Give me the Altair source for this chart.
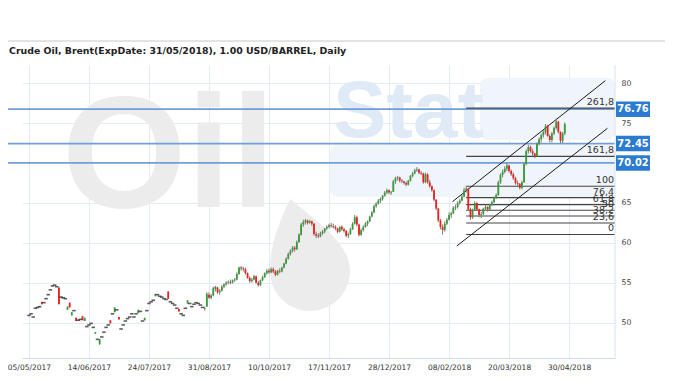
import altair as alt
import pandas as pd

# ---------------- data (June-2018 Brent contract, daily bars) ----------------
opens = [
    50.9, 51.1, 50.7, 51.8, 51.9, 52.0, 52.6, 52.5, 53.0, 53.5,
    54.1, 54.6, 54.7, 54.5, 54.4, 53.2, 53.1, 53.0, 51.6, 52.5,
    50.9, 51.5, 50.6, 50.3, 50.4, 50.8, 50.2, 49.5, 49.7, 49.9,
    49.4, 48.6, 47.9, 47.3, 48.2, 48.8, 49.4, 49.7, 50.3, 51.1,
    51.3, 51.6, 50.7, 49.2, 49.7, 50.2, 50.5, 50.7, 51.1, 50.7,
    51.1, 51.2, 51.4, 50.2, 50.3, 51.5, 52.4, 52.6, 52.8, 53.3,
    53.5, 53.3, 53.2, 53.0, 52.9, 53.9, 52.6, 52.4, 52.2, 51.8,
    51.7, 51.1, 50.9, 51.8, 52.4, 52.4, 52.0, 52.3, 52.5, 52.4,
    52.2, 51.9, 51.7, 52.0, 53.5, 53.1, 53.4, 54.2, 54.4, 53.8,
    54.0, 54.5, 54.8, 55.0, 55.1, 55.0, 55.3, 55.4, 56.1, 56.9,
    56.8, 56.7, 56.2, 55.6, 55.2, 55.4, 55.8, 55.0, 54.7, 55.3,
    55.7, 56.2, 56.5, 56.3, 56.7, 56.4, 56.0, 56.5, 56.4, 56.9,
    57.4, 58.0, 58.6, 59.0, 59.4, 59.2, 60.1, 61.0, 62.3, 62.6,
    62.8, 62.5, 62.7, 62.4, 61.1, 60.9, 60.8, 61.2, 61.4, 61.8,
    62.0, 62.2, 62.1, 62.0, 61.8, 61.4, 62.0, 61.7, 61.5, 60.9,
    61.1, 61.7, 62.4, 63.2, 62.3, 61.0, 61.6, 62.0, 62.4, 62.7,
    63.3, 63.8, 64.6, 64.9, 65.3, 65.5, 65.9, 66.3, 66.6, 66.3,
    66.4, 67.7, 68.1, 68.2, 67.8, 67.7, 67.5, 67.3, 67.8, 68.4,
    68.7, 69.1, 69.2, 68.8, 68.7, 67.6, 68.6, 67.6, 67.1, 66.6,
    65.4, 64.3, 62.8, 62.0, 61.6, 62.4, 62.9, 63.5, 63.7, 64.4,
    64.5, 65.0, 65.3, 65.8, 66.6, 66.8, 64.2, 63.2, 64.1, 65.0,
    64.2, 63.5, 63.6, 64.3, 64.5, 64.2, 64.8, 65.1, 65.6, 66.0,
    67.6, 68.5, 68.9, 69.3, 69.7, 69.0, 68.6, 68.1, 67.5, 67.4,
    66.9, 67.6, 69.9, 71.5, 72.0, 71.5, 71.2, 70.9, 72.4, 73.0,
    73.5, 73.9, 74.7, 73.4, 72.9, 73.7, 74.4, 75.2, 73.9, 72.8,
    73.7,
]
highs = [
    50.9, 51.1, 50.7, 51.8, 51.9, 52.0, 52.6, 52.5, 53.0, 53.5,
    54.1, 54.6, 54.7, 54.5, 54.4, 53.2, 53.1, 53.0, 52.0, 52.5,
    51.3, 51.5, 50.6, 50.3, 50.4, 50.8, 50.6, 49.5, 49.7, 49.9,
    49.4, 48.8, 47.9, 47.9, 48.2, 48.8, 49.4, 49.7, 50.3, 51.1,
    51.9, 51.6, 50.7, 49.2, 49.7, 50.2, 50.5, 50.7, 51.1, 50.7,
    51.1, 51.6, 51.4, 50.2, 50.6, 51.5, 52.4, 52.6, 52.8, 53.6,
    53.5, 53.3, 53.2, 53.0, 52.9, 53.9, 52.6, 52.4, 52.2, 51.8,
    51.7, 51.1, 50.9, 51.8, 52.8, 52.4, 52.0, 52.3, 52.5, 52.4,
    52.2, 51.9, 52.0, 53.8, 53.8, 53.6, 54.5, 54.6, 54.5, 54.2,
    54.7, 54.9, 55.2, 55.3, 55.4, 55.4, 55.6, 56.3, 57.0, 57.1,
    57.0, 56.9, 56.3, 55.8, 55.6, 56.0, 55.9, 55.2, 55.4, 55.9,
    56.3, 56.7, 56.8, 56.9, 56.9, 56.6, 56.6, 56.8, 57.0, 57.5,
    58.2, 58.8, 59.2, 59.6, 59.6, 60.3, 61.2, 62.5, 62.9, 63.0,
    62.9, 62.9, 62.8, 62.5, 61.4, 61.2, 61.4, 61.6, 61.9, 62.2,
    62.4, 62.5, 62.4, 62.2, 61.9, 62.1, 62.2, 61.9, 61.6, 61.3,
    61.9, 62.6, 63.5, 63.4, 62.4, 61.8, 62.2, 62.6, 62.8, 63.4,
    64.0, 64.8, 65.1, 65.5, 65.7, 66.0, 66.5, 66.8, 66.7, 66.5,
    67.9, 68.3, 68.4, 68.3, 68.0, 67.8, 67.7, 67.9, 68.5, 68.9,
    69.3, 69.5, 69.3, 69.0, 68.8, 68.8, 68.7, 67.9, 67.2, 66.7,
    65.5, 64.4, 63.0, 62.3, 62.7, 63.1, 63.8, 63.9, 64.6, 64.8,
    65.2, 65.5, 66.0, 66.9, 67.1, 66.9, 64.4, 64.3, 65.2, 65.1,
    64.3, 63.9, 64.4, 64.8, 64.6, 64.9, 65.3, 65.8, 66.2, 67.8,
    68.7, 69.2, 69.6, 70.0, 69.8, 69.2, 68.8, 68.3, 67.8, 67.5,
    67.8, 70.1, 71.7, 72.3, 72.2, 71.8, 71.3, 72.6, 73.2, 73.7,
    74.2, 74.9, 74.8, 73.6, 73.9, 74.6, 75.6, 75.3, 74.0, 73.9,
    75.1,
]
lows = [
    50.9, 51.1, 50.7, 51.8, 51.9, 52.0, 52.3, 52.5, 53.0, 53.5,
    54.1, 54.6, 54.7, 54.5, 52.3, 53.2, 53.1, 53.0, 51.6, 51.9,
    50.9, 51.5, 50.2, 50.3, 50.4, 50.3, 50.2, 49.5, 49.7, 49.9,
    49.4, 48.6, 47.9, 47.2, 48.2, 48.8, 49.4, 49.7, 49.9, 51.1,
    51.3, 51.6, 50.4, 49.2, 49.7, 50.2, 50.5, 50.7, 51.1, 50.7,
    51.1, 51.2, 51.4, 50.2, 50.3, 51.5, 52.4, 52.6, 52.8, 53.3,
    53.5, 53.3, 53.2, 53.0, 52.9, 53.0, 52.6, 52.4, 52.2, 51.8,
    51.4, 51.1, 50.9, 51.8, 52.4, 52.4, 52.0, 52.3, 52.5, 52.4,
    52.2, 51.9, 51.5, 52.0, 53.0, 52.9, 53.3, 53.9, 53.6, 53.5,
    53.9, 54.3, 54.6, 54.8, 54.8, 54.9, 55.1, 55.3, 56.0, 56.5,
    56.4, 56.0, 55.5, 55.0, 55.0, 55.3, 54.9, 54.5, 54.6, 55.2,
    55.6, 56.0, 56.1, 56.2, 56.2, 55.8, 55.9, 56.2, 56.3, 56.8,
    57.3, 57.9, 58.4, 58.8, 58.9, 59.1, 60.0, 60.9, 62.0, 62.3,
    62.3, 62.4, 62.1, 60.9, 60.6, 60.6, 60.7, 61.0, 61.2, 61.6,
    61.8, 61.9, 61.8, 61.6, 61.2, 61.3, 61.5, 61.3, 60.7, 60.6,
    61.0, 61.6, 62.3, 62.1, 60.8, 60.9, 61.4, 61.9, 62.1, 62.6,
    63.2, 63.7, 64.4, 64.8, 65.0, 65.3, 65.8, 66.1, 66.1, 66.0,
    66.4, 67.4, 67.8, 67.6, 67.5, 67.3, 67.1, 67.2, 67.7, 68.2,
    68.6, 68.9, 68.6, 68.5, 67.4, 67.5, 67.4, 66.9, 66.4, 65.2,
    64.1, 62.6, 61.7, 61.05, 61.4, 62.2, 62.8, 63.1, 63.6, 64.1,
    64.3, 64.8, 65.2, 65.7, 66.3, 64.0, 62.9, 63.0, 64.0, 64.0,
    63.2, 63.1, 63.5, 64.0, 63.9, 64.1, 64.6, 65.0, 65.5, 65.9,
    67.4, 68.2, 68.7, 69.0, 68.8, 68.4, 67.9, 67.3, 67.1, 66.7,
    66.7, 67.5, 69.7, 71.2, 71.3, 70.9, 70.6, 70.8, 72.2, 72.6,
    73.2, 73.6, 73.3, 72.6, 72.6, 73.5, 74.2, 73.7, 72.5, 72.5,
    73.5,
]
closes = [
    50.9, 51.1, 50.7, 51.8, 51.9, 52.0, 52.3, 52.5, 53.0, 53.5,
    54.1, 54.6, 54.7, 54.5, 52.3, 53.2, 53.1, 53.0, 52.0, 51.9,
    51.3, 51.5, 50.2, 50.3, 50.4, 50.3, 50.6, 49.5, 49.7, 49.9,
    49.4, 48.8, 47.9, 47.9, 48.2, 48.8, 49.4, 49.7, 49.9, 51.1,
    51.9, 51.6, 50.4, 49.2, 49.7, 50.2, 50.5, 50.7, 51.1, 50.7,
    51.1, 51.6, 51.4, 50.2, 50.6, 51.5, 52.4, 52.6, 52.8, 53.6,
    53.5, 53.3, 53.2, 53.0, 52.9, 53.0, 52.6, 52.4, 52.2, 51.8,
    51.4, 51.1, 50.9, 51.8, 52.8, 52.4, 52.0, 52.3, 52.5, 52.4,
    52.2, 51.9, 51.8, 53.6, 53.1, 53.4, 54.3, 54.5, 53.8, 54.0,
    54.5, 54.8, 55.0, 55.1, 55.0, 55.3, 55.4, 56.1, 56.9, 56.8,
    56.7, 56.2, 55.6, 55.2, 55.4, 55.8, 55.0, 54.7, 55.3, 55.7,
    56.2, 56.5, 56.3, 56.7, 56.4, 56.0, 56.5, 56.4, 56.9, 57.4,
    58.0, 58.6, 59.0, 59.4, 59.2, 60.1, 61.0, 62.3, 62.6, 62.8,
    62.5, 62.7, 62.4, 61.1, 60.9, 60.8, 61.2, 61.4, 61.8, 62.0,
    62.2, 62.1, 62.0, 61.8, 61.4, 62.0, 61.7, 61.5, 60.9, 61.1,
    61.7, 62.4, 63.2, 62.3, 61.0, 61.6, 62.0, 62.4, 62.7, 63.3,
    63.8, 64.6, 64.9, 65.3, 65.5, 65.9, 66.3, 66.6, 66.3, 66.4,
    67.7, 68.1, 68.2, 67.8, 67.7, 67.5, 67.3, 67.8, 68.4, 68.7,
    69.1, 69.2, 68.8, 68.7, 67.6, 68.6, 67.6, 67.1, 66.6, 65.4,
    64.3, 62.8, 62.0, 61.6, 62.4, 62.9, 63.5, 63.7, 64.4, 64.5,
    65.0, 65.3, 65.8, 66.6, 66.8, 64.2, 63.2, 64.1, 65.0, 64.2,
    63.5, 63.6, 64.3, 64.5, 64.2, 64.8, 65.1, 65.6, 66.0, 67.6,
    68.5, 68.9, 69.3, 69.7, 69.0, 68.6, 68.1, 67.5, 67.4, 66.9,
    67.6, 69.9, 71.5, 72.0, 71.5, 71.2, 70.9, 72.4, 73.0, 73.5,
    73.9, 74.6, 73.4, 72.9, 73.7, 74.4, 75.2, 73.9, 72.8, 73.7,
    74.9,
]

tick_index = [0, 28, 56, 84, 112, 140, 168, 196, 224, 252]
tick_labels = ["05/05/2017", "14/06/2017", "24/07/2017", "31/08/2017", "10/10/2017",
               "17/11/2017", "28/12/2017", "08/02/2018", "20/03/2018", "30/04/2018"]
y_ticks = [50, 55, 60, 65, 75, 80]
level_values = [76.76, 72.45, 70.02]
fib_labels = ["261,8", "161,8", "100", "76,4", "61,8", "50", "38,2", "23,6", "0"]
fib_values = [76.89, 70.84, 67.1, 65.67, 64.79, 64.08, 63.36, 62.48, 61.05]
fib_start = 204
channel_name = ["upper", "upper", "lower", "lower"]
channel_index = [197.6, 268.9, 199.6, 269.9]
channel_price = [65.16, 80.33, 59.6, 74.36]
title_text = "Crude Oil, Brent(ExpDate: 31/05/2018), 1.00 USD/BARREL, Daily"

# ---------------- layout ----------------
W, H = 593, 293
XDOM = [-0.9, 271.1]
YDOM = [45.56, 82.3]
GRID = "#e3ecf5"

df = pd.DataFrame({"i": list(range(len(closes))), "o": opens, "h": highs, "l": lows, "c": closes})

xs = alt.Scale(domain=XDOM, nice=False, zero=False)
ys = alt.Scale(domain=YDOM, nice=False, zero=False)
label_expr = "[" + ",".join("'%s'" % t for t in tick_labels) + "][round(datum.value / 28)]"
x_axis = alt.Axis(values=tick_index, labelExpr=label_expr, title=None, grid=True, gridColor=GRID,
                  domainColor="#cfdcea", ticks=False, labelFontSize=7.5, labelColor="#333333",
                  labelFont="DejaVu Sans", labelPadding=5, labelFlush=5, labelFlushOffset=15)
y_axis = alt.Axis(values=y_ticks, orient="right", title=None, grid=True, gridColor=GRID,
                  domain=False, ticks=False, labelFontSize=7.8, labelColor="#444444",
                  labelPadding=6, labelFont="DejaVu Sans")


def X(field):
    return alt.X(field, type="quantitative", scale=xs, axis=x_axis)


def Y(field):
    return alt.Y(field, type="quantitative", scale=ys, axis=y_axis)


one = pd.DataFrame({"k": [0]})

# faint watermark
WM_BLUE = "#eff5fb"
WM_GRAY = "#ececec"
wm_box1 = alt.Chart(one).mark_rect(color=WM_BLUE, cornerRadius=8).encode(
    x=alt.value(458), x2=alt.value(W), y=alt.value(13), y2=alt.value(75))
wm_box2 = alt.Chart(one).mark_rect(color=WM_BLUE, cornerRadius=8).encode(
    x=alt.value(308), x2=alt.value(W), y=alt.value(80), y2=alt.value(132))
wm_oil = alt.Chart(one).mark_text(text="Oil", font="Liberation Sans", fontWeight="bold", fontSize=160,
                                  color=WM_GRAY, align="left", baseline="alphabetic").encode(
    x=alt.value(40), y=alt.value(142))
drop_path = "M -0.5 -1.65 C 0.3 -1.0 1 -0.5 1 0.15 A 1 1 0 1 1 -1 0.15 C -1 -0.5 -0.8 -1.0 -0.5 -1.65 Z"
wm_drop = alt.Chart(one).mark_point(shape=drop_path, size=6400, filled=True, color=WM_GRAY, opacity=1).encode(
    x=alt.value(288), y=alt.value(200))
wm_stat = alt.Chart(one).mark_text(text="Stat", font="Liberation Sans", fontWeight="bold", fontSize=80,
                                   color="#dfeaf6", align="left", baseline="alphabetic").encode(
    x=alt.value(311), y=alt.value(72))

# blue horizontal levels
lv = pd.DataFrame({"v": level_values})
level_lines = alt.Chart(lv).mark_rule(color="#6f9fd6", strokeWidth=1.8).encode(
    x=alt.value(-14), x2=alt.value(W), y=Y("v"))

# fibonacci
fib = pd.DataFrame({"name": fib_labels, "v": fib_values, "s": [fib_start] * len(fib_values)})
fib_lines = alt.Chart(fib).mark_rule(color="#444444", strokeWidth=1.1).encode(
    x=X("s"), x2=alt.value(W), y=Y("v"))
fib_text = alt.Chart(fib).mark_text(align="right", baseline="alphabetic", dy=-3, fontSize=9.5,
                                    font="DejaVu Sans", color="#333333").encode(
    x=alt.value(W - 1), y=Y("v"), text="name:N")

# channel
ch = pd.DataFrame({"g": channel_name, "i": channel_index, "p": channel_price})
channel = alt.Chart(ch).mark_line(color="#1a1a1a", strokeWidth=1).encode(
    x=X("i"), y=Y("p"), detail="g:N")

# candles
base = alt.Chart(df)
wicks = base.mark_rule(color="#7a7a7a", strokeWidth=1).encode(x=X("i"), y=Y("l"), y2="h")
bodies = base.transform_filter("datum.o != datum.c").mark_bar(size=1.8).encode(
    x=X("i"), y=Y("o"), y2="c",
    color=alt.condition("datum.c > datum.o", alt.value("#3a9a3a"), alt.value("#f21e1e")))
dojis = base.transform_filter("datum.o == datum.c").mark_tick(
    orient="horizontal", size=3.5, thickness=1.6, color="#1a1a1a").encode(x=X("i"), y=Y("c"))

# price boxes on the right
boxes = alt.Chart(lv).transform_calculate(lo="datum.v - 0.97", hi="datum.v + 0.97").mark_rect(
    color="#2b7bd3").encode(x=alt.value(W + 1), x2=alt.value(W + 35), y=Y("lo"), y2="hi")
box_text = alt.Chart(lv).mark_text(color="white", fontWeight="bold", fontSize=11,
                                   font="DejaVu Sans Condensed").encode(
    x=alt.value(W + 18), y=Y("v"), text=alt.Text("v:Q", format=".2f"))

# frame bits and title
right_edge = alt.Chart(one).mark_rule(color="#d6e3f0").encode(
    x=alt.value(W), y=alt.value(0), y2=alt.value(H))
top_line = alt.Chart(one).mark_rule(color="#c8c8c8").encode(
    x=alt.value(-14), x2=alt.value(660), y=alt.value(-24))
title = alt.Chart(one).mark_text(text=title_text, align="left", baseline="middle", fontSize=9.4,
                                 fontWeight="bold", font="DejaVu Sans", color="#222222").encode(
    x=alt.value(-13), y=alt.value(-14))

chart = alt.layer(
    wm_box1, wm_box2, wm_oil, wm_drop, wm_stat,
    level_lines, fib_lines, channel, wicks, bodies, dojis,
    fib_text, boxes, box_text, right_edge, top_line, title,
).properties(
    width=W, height=H,
    autosize=alt.AutoSizeParams(type="none"),
    padding={"left": 14, "top": 57, "right": 50, "bottom": 14},
    background="white",
).configure_view(stroke=None)

chart.save("out.html", embed_options={"renderer": "svg", "actions": False})
